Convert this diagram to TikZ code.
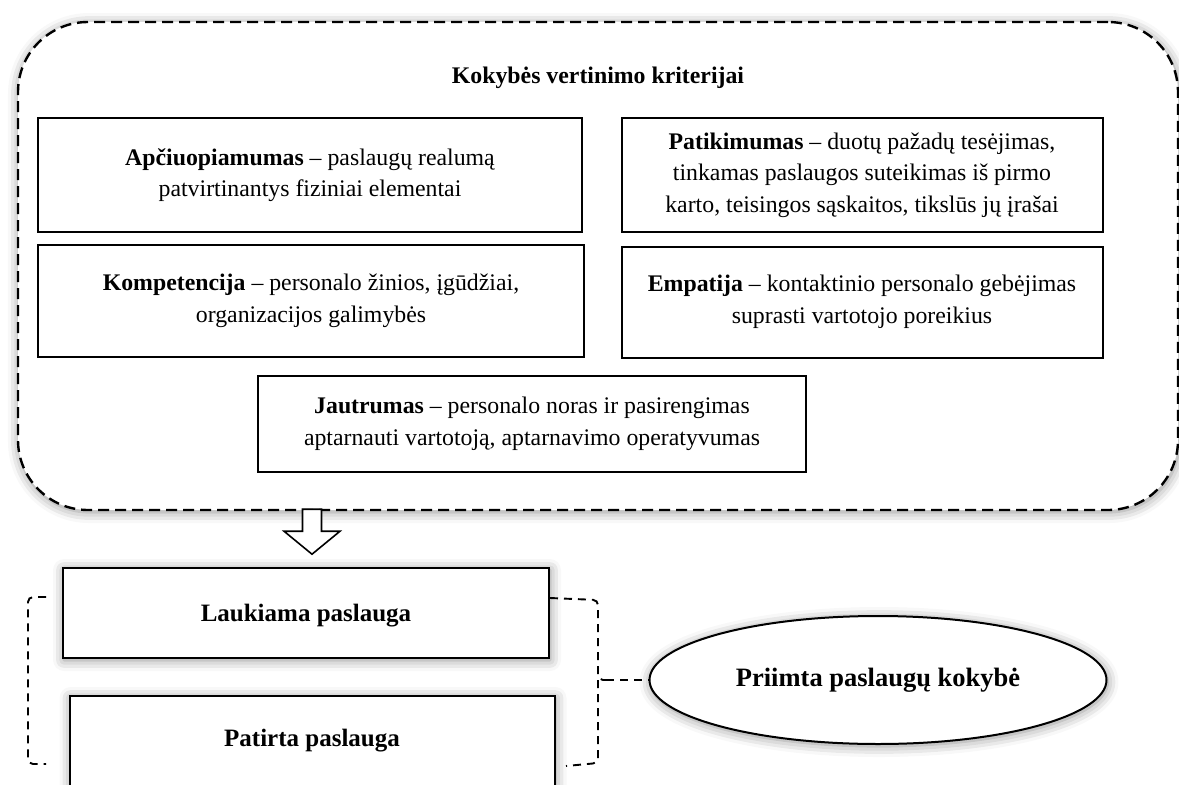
\documentclass[tikz,border=0pt]{standalone}
\usepackage{fontspec}
\setmainfont{Liberation Serif}
\usetikzlibrary{calc,shapes.geometric,shadows.blur}
\tikzset{
  krit/.style={draw,line width=2pt,fill=white,align=center,inner sep=0pt},
  glow/.style={blur shadow={shadow xshift=1pt,shadow yshift=-2pt,shadow blur radius=11pt,shadow opacity=45}},
  brace/.style={dash pattern=on 8pt off 6pt,line width=1.9pt,rounded corners=5pt},
  antr/.style={font=\fontsize{25}{31}\selectfont\bfseries},
}
\begin{document}
\begin{tikzpicture}[x=1pt,y=-1pt,font=\fontsize{23.8}{31.5}\selectfont]
\useasboundingbox (0,0) rectangle (1179,785);
\node[draw,line width=2.4pt,dash pattern=on 11pt off 6pt,rounded corners=70pt,fill=white,glow,
      minimum width=1160pt,minimum height=488pt] (vertin) at (598,266) {};
\node[font=\fontsize{23.8}{31}\selectfont\bfseries] (kriter) at (598,78) {Kokybės vertinimo kriterijai};
\node[krit,minimum width=544pt,minimum height=114pt] (apciuop) at (310,175)
  {\textbf{Apčiuopiamumas} – paslaugų realumą\\ patvirtinantys fiziniai elementai};
\node[krit,minimum width=481pt,minimum height=114pt] (patikim) at (862,175)
  {\textbf{Patikimumas} – duotų pažadų tesėjimas,\\ tinkamas paslaugos suteikimas iš pirmo\\ karto, teisingos sąskaitos, tikslūs jų įrašai};
\node[krit,minimum width=546pt,minimum height=112pt] (kompet) at (311,301)
  {\textbf{Kompetencija} – personalo žinios, įgūdžiai,\\ organizacijos galimybės};
\node[krit,minimum width=481pt,minimum height=111pt] (empat) at (862,302)
  {\textbf{Empatija} – kontaktinio personalo gebėjimas\\ suprasti vartotojo poreikius};
\node[krit,minimum width=548pt,minimum height=96pt] (jautr) at (532,424)
  {\textbf{Jautrumas} – personalo noras ir pasirengimas\\ aptarnauti vartotoją, aptarnavimo operatyvumas};
\coordinate (pil) at ($(vertin.south)+(-286,0)$);
\draw[line width=1.6pt,fill=white] ($(pil)+(-9.5,-2)$) -- ($(pil)+(9.5,-2)$) -- ($(pil)+(9.5,20)$)
  -- ($(pil)+(28,20)$) -- ($(pil)+(0,43)$) -- ($(pil)+(-28,20)$) -- ($(pil)+(-9.5,20)$) -- cycle;
\node[krit,antr,glow,text depth=0pt,minimum width=486pt,minimum height=90pt] (lauk) at (306,613) {Laukiama paslauga};
\node[krit,antr,glow,minimum width=485pt,minimum height=90pt] (patir) at (312,741) {Patirta paslauga};
\node[draw,ellipse,line width=2pt,fill=white,glow,font=\fontsize{26.5}{31}\selectfont\bfseries,
      minimum width=457pt,minimum height=128pt] (priimta) at (878,680) {Priimta paslaugų kokybė};
\draw[brace] (46,597) -- (28,597) -- (28,764) -- (46,764);
\draw[brace] (550,598) -- (598,600) -- (598,680) -- (606,680);
\draw[brace] (598,680) -- (598,763) -- (566,766);
\coordinate (smaig) at (606,680);
\draw[brace] (smaig) -- (priimta.west);
\end{tikzpicture}
\end{document}
